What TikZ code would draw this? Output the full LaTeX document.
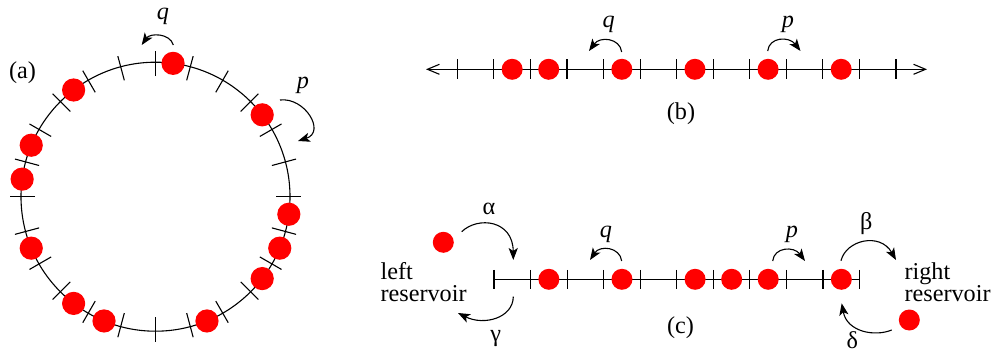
\documentclass[tikz,border=0pt]{standalone}
\usepackage{fontspec}
\setmainfont{Liberation Serif}
\usetikzlibrary{arrows.meta}
\begin{document}
\begin{tikzpicture}[x=0.5pt,y=-0.5pt,line width=0.55pt,
  every node/.style={font=\fontsize{12.1}{14}\selectfont,inner sep=0pt},
  particle/.style={circle,fill=red,draw=none,minimum size=10.5pt,inner sep=0pt},
  bigparticle/.style={circle,fill=red,draw=none,minimum size=11.6pt,inner sep=0pt},
  hop/.style={-{Stealth[length=6pt,width=4.6pt,inset=1.5pt]},line width=0.55pt},
  axis/.style={{Straight Barb[length=6pt,width=5pt]}-{Straight Barb[length=6pt,width=5pt]},line width=0.55pt},
  tickmark/.style={line width=0.55pt}]
\useasboundingbox (0,0) rectangle (992,353);

% ---------------- (a) ring ----------------
\begin{scope}[shift={(155.5,196.7)},yscale=-1]
  \draw (0,0) circle[radius=134.5];
  \foreach \a in {0,15,...,345} \draw[tickmark] (\a:120.5) -- (\a:145.5);
  \foreach \a/\n in {82.5/1,37.5/2,-7.5/3,-22.5/4,-37.5/5,-67.5/6,-112.5/7,-127.5/8,-157.5/9,172.5/10,157.5/11,127.5/12}
    \node[bigparticle] (a\n) at (\a:134.5) {};
\end{scope}
\node (alabel) at (22.5,73) {(a)};
\node (aq) at (163,16) {\textit{q}};
\node (ap) at (303,85) {\textit{p}};
\coordinate (aqs) at (173.3,45);
\coordinate (aqe) at (141.7,45);
\draw[hop] (aqs) .. controls (170,33) and (150,33) .. (aqe);
\coordinate (aps) at (280,100);
\coordinate (ape) at (298,141);
\draw[hop] (aps) .. controls (305,97) and (326,132) .. (ape);

% ---------------- (b) infinite line ----------------
\coordinate (bl) at (426,69.3);
\coordinate (br) at (927,69.3);
\draw[axis] (bl) -- (br);
\foreach \k in {0,...,12} \draw[tickmark] ({457.3+36.56*\k},59.3) -- ++(0,20);
\foreach \k/\n in {1/1,2/2,4/3,6/4,8/5,10/6}
  \node[particle] (b\n) at ({475.6+36.56*\k},69.3) {};
\node (bq) at (608.7,24) {\textit{q}};
\node (bp) at (788,24) {\textit{p}};
\coordinate (bqs) at (621.7,52);
\coordinate (bqe) at (589,51);
\draw[hop] (bqs) .. controls (620,38) and (600,36) .. (bqe);
\coordinate (bps) at (767.7,51);
\coordinate (bpe) at (800.5,51);
\draw[hop] (bps) .. controls (769,37) and (789,36) .. (bpe);
\node (blabel) at (681,114) {(b)};

% ---------------- (c) open line ----------------
\coordinate (cl) at (494,279.3);
\coordinate (cr) at (859.6,279.3);
\draw (cl) -- (cr);
\foreach \k in {0,...,10} \draw[tickmark] ({494+36.56*\k},269.8) -- ++(0,19);
\foreach \k/\n in {1/1,3/2,5/3,6/4,7/5,9/6}
  \node[particle] (c\n) at ({512.3+36.56*\k},279.3) {};
\node[particle] (lres) at (443.3,242.3) {};
\node[particle] (rres) at (909.3,320) {};

\node[anchor=base west] (lt1) at (380,279) {left};
\node[anchor=base west] (lt2) at (380,301.7) {reservoir};
\node[anchor=base west] (rt1) at (904,279) {right};
\node[anchor=base west] (rt2) at (904,301.7) {reservoir};

\node (calpha) at (489,209.3) {α};
\node (cgamma) at (495.7,339) {γ};
\node (cbeta) at (866.3,223.3) {β};
\node (cdelta) at (852.3,340) {δ};
\node (cq) at (606,234) {\textit{q}};
\node (cp) at (792,234) {\textit{p}};
\node (clabel) at (680.5,328) {(c)};

\coordinate (als) at (461.7,231.7);
\coordinate (ale) at (513.3,260);
\draw[hop] (als) .. controls (478,216) and (513,220) .. (ale);
\coordinate (gas) at (513.3,296.7);
\coordinate (gae) at (458,313);
\draw[hop] (gas) .. controls (513,318) and (484,326) .. (gae);
\coordinate (bes) at (841,260.7);
\coordinate (bee) at (896,260);
\draw[hop] (bes) .. controls (846,240) and (880,232) .. (bee);
\coordinate (des) at (891.7,330);
\coordinate (dee) at (841.7,303.3);
\draw[hop] (des) .. controls (875,337) and (847,332) .. (dee);
\coordinate (cqs) at (621.7,261);
\coordinate (cqe) at (590,260);
\draw[hop] (cqs) .. controls (620,247) and (600,245) .. (cqe);
\coordinate (cps) at (772.7,261);
\coordinate (cpe) at (805,261);
\draw[hop] (cps) .. controls (774,247) and (794,246) .. (cpe);
\end{tikzpicture}
\end{document}
